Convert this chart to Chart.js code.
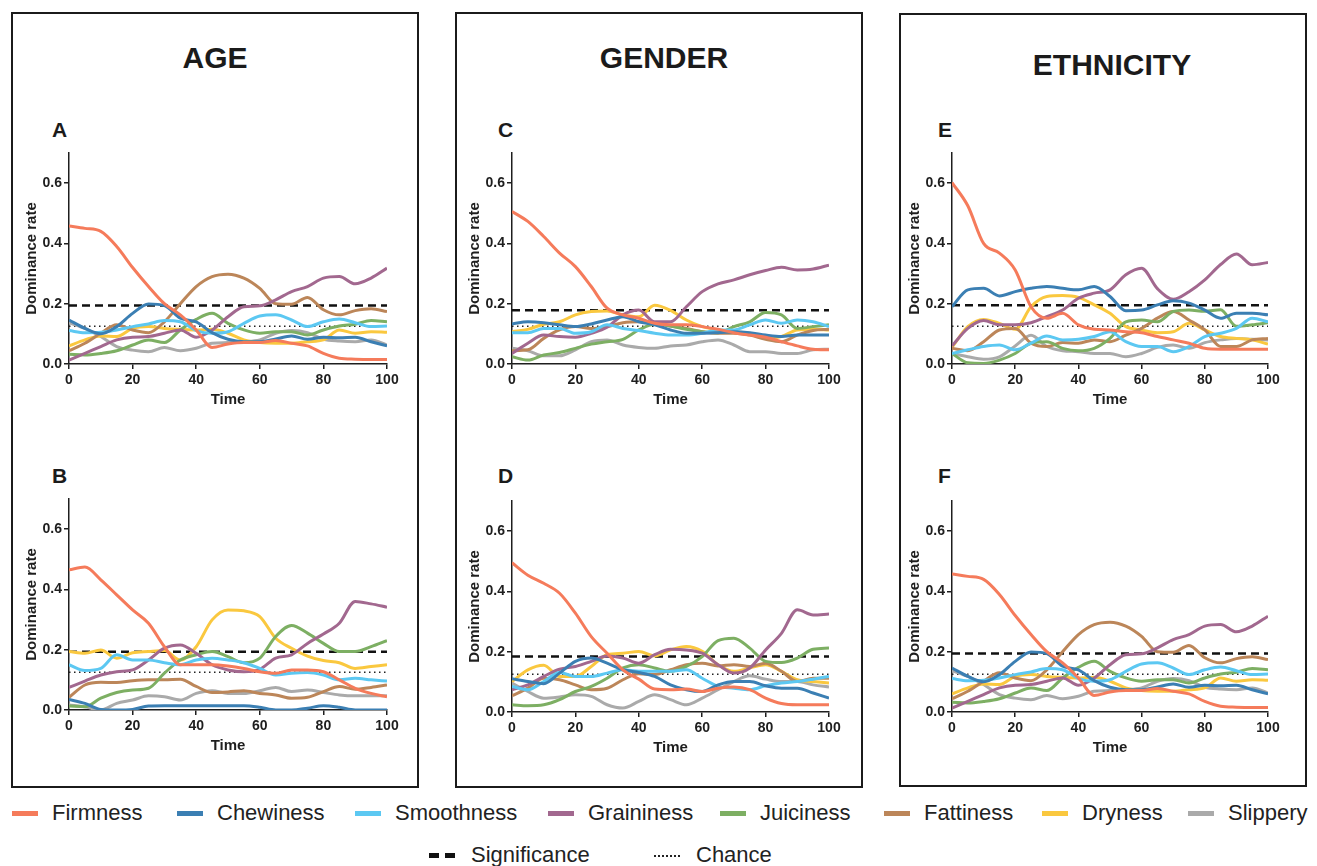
<!DOCTYPE html>
<html>
<head>
<meta charset="utf-8">
<title>Temporal dominance by age, gender and ethnicity</title>
<script src="https://cdn.jsdelivr.net/npm/chart.js@4.4.1/dist/chart.umd.min.js"></script>
<style>
  body { margin: 0; background: #fff; font-family: "Liberation Sans", Arial, sans-serif; }
  #page { position: relative; width: 1317px; height: 866px; overflow: hidden; background: #fff; }
  .box { position: absolute; border: 2.5px solid #1b1b1b; box-sizing: border-box; }
  .group-title { position: absolute; font-weight: bold; font-size: 30px; line-height: 1; color: #1b1b1b; transform: translateX(-50%); white-space: nowrap; }
  .panel-letter { position: absolute; font-weight: bold; font-size: 21px; line-height: 1; color: #1b1b1b; }
  canvas { position: absolute; }
  .legend-item { position: absolute; height: 30px; display: flex; align-items: center; font-size: 22px; color: #222; white-space: nowrap; }
  .sw { position: absolute; }
</style>
</head>
<body>
<div id="page">
  <div class="box" style="left:11px; top:12px; width:408px; height:776px;"></div>
  <div class="box" style="left:455px; top:12px; width:408px; height:776px;"></div>
  <div class="box" style="left:899px; top:13px; width:408px; height:774px;"></div>

  <div class="group-title" style="left:215px; top:43px;">AGE</div>
  <div class="group-title" style="left:664px; top:43px;">GENDER</div>
  <div class="group-title" style="left:1112px; top:50px;">ETHNICITY</div>

  <div class="panel-letter" style="left:52px; top:119px;">A</div>
  <div class="panel-letter" style="left:52px; top:465px;">B</div>
  <div class="panel-letter" style="left:498px; top:119px;">C</div>
  <div class="panel-letter" style="left:498px; top:465px;">D</div>
  <div class="panel-letter" style="left:938px; top:119px;">E</div>
  <div class="panel-letter" style="left:938px; top:465px;">F</div>

  <!-- reference line keys -->
  <div class="sw" style="left:429px; top:853px; width:10px; height:5px; background:#111;"></div>
  <div class="sw" style="left:445px; top:853px; width:10px; height:5px; background:#111;"></div>
  <div class="legend-item" style="left:471px; top:840px;">Significance</div>
  <div class="sw" style="left:654px; top:855px; width:26px; height:0; border-top:2px dotted #222;"></div>
  <div class="legend-item" style="left:696px; top:840px;">Chance</div>
</div>

<script>
// time axis (normalised, %) and axis ticks
const times = [0, 5, 10, 15, 20, 25, 30, 35, 40, 45, 50, 55, 60, 65, 70, 75, 80, 85, 90, 95, 100];
const xTicks = [0, 20, 40, 60, 80, 100];
const yTicks = [0, 0.2, 0.4, 0.6];

const attributes = ['Firmness', 'Chewiness', 'Smoothness', 'Graininess', 'Juiciness', 'Fattiness', 'Dryness', 'Slippery'];
const attributeColors = ['#F57B5B', '#3B7FB3', '#5CC8F2', '#A2688F', '#7DAF63', '#BC8659', '#FAC83F', '#AAAAAA'];
const chanceLevel = 0.125;

// Panel A - age, group 1
const firmnessA   = [0.458, 0.45, 0.44, 0.39, 0.32, 0.257, 0.20, 0.163, 0.113, 0.055, 0.066, 0.071, 0.071, 0.078, 0.069, 0.06, 0.035, 0.019, 0.016, 0.015, 0.015];
const chewinessA  = [0.146, 0.118, 0.10, 0.124, 0.168, 0.199, 0.194, 0.152, 0.14, 0.104, 0.082, 0.074, 0.074, 0.083, 0.093, 0.082, 0.089, 0.087, 0.089, 0.074, 0.06];
const smoothnessA = [0.111, 0.104, 0.105, 0.113, 0.124, 0.133, 0.144, 0.14, 0.111, 0.102, 0.107, 0.135, 0.159, 0.163, 0.146, 0.124, 0.14, 0.149, 0.137, 0.124, 0.126];
const grainA      = [0.013, 0.035, 0.058, 0.08, 0.089, 0.091, 0.102, 0.113, 0.089, 0.113, 0.157, 0.19, 0.193, 0.213, 0.24, 0.257, 0.285, 0.29, 0.266, 0.285, 0.318];
const juicinessA  = [0.032, 0.03, 0.035, 0.044, 0.063, 0.08, 0.071, 0.113, 0.148, 0.168, 0.135, 0.113, 0.102, 0.107, 0.107, 0.096, 0.113, 0.126, 0.132, 0.144, 0.14];
const fattinessA  = [0.044, 0.069, 0.102, 0.13, 0.113, 0.104, 0.14, 0.20, 0.257, 0.29, 0.298, 0.285, 0.251, 0.20, 0.198, 0.221, 0.18, 0.163, 0.177, 0.183, 0.174];
const drynessA    = [0.06, 0.08, 0.093, 0.091, 0.118, 0.124, 0.118, 0.115, 0.113, 0.115, 0.102, 0.08, 0.071, 0.069, 0.069, 0.074, 0.08, 0.113, 0.102, 0.107, 0.105];
const slipperyA   = [0.137, 0.118, 0.091, 0.058, 0.046, 0.041, 0.055, 0.044, 0.052, 0.069, 0.071, 0.074, 0.08, 0.102, 0.111, 0.104, 0.082, 0.076, 0.074, 0.08, 0.063];
const significanceA = 0.194;

// Panel B - age, group 2
const firmnessB   = [0.465, 0.474, 0.432, 0.382, 0.332, 0.288, 0.21, 0.15, 0.15, 0.15, 0.146, 0.138, 0.127, 0.122, 0.133, 0.133, 0.127, 0.10, 0.072, 0.055, 0.044];
const chewinessB  = [0.035, 0.022, 0.002, 0, 0.002, 0.013, 0.014, 0.014, 0.014, 0.014, 0.014, 0.014, 0.009, 0, 0, 0.006, 0.014, 0.009, 0, 0, 0];
const smoothnessB = [0.15, 0.131, 0.138, 0.183, 0.166, 0.166, 0.157, 0.15, 0.166, 0.172, 0.166, 0.157, 0.138, 0.116, 0.122, 0.124, 0.116, 0.10, 0.105, 0.10, 0.096];
const grainB      = [0.075, 0.096, 0.116, 0.127, 0.133, 0.166, 0.205, 0.216, 0.188, 0.15, 0.133, 0.127, 0.135, 0.172, 0.183, 0.221, 0.252, 0.288, 0.36, 0.352, 0.341];
const juicinessB  = [0.013, 0.011, 0.039, 0.058, 0.066, 0.072, 0.122, 0.166, 0.183, 0.194, 0.177, 0.157, 0.172, 0.244, 0.28, 0.255, 0.221, 0.194, 0.194, 0.21, 0.23];
const fattinessB  = [0.042, 0.083, 0.092, 0.091, 0.097, 0.10, 0.10, 0.102, 0.078, 0.058, 0.06, 0.064, 0.055, 0.05, 0.039, 0.042, 0.061, 0.078, 0.069, 0.075, 0.083];
const drynessB    = [0.194, 0.188, 0.199, 0.172, 0.19, 0.194, 0.197, 0.166, 0.21, 0.299, 0.332, 0.329, 0.31, 0.238, 0.205, 0.179, 0.164, 0.157, 0.138, 0.144, 0.15];
const slipperyB   = [0.017, 0.011, 0, 0.022, 0.033, 0.047, 0.044, 0.033, 0.055, 0.064, 0.055, 0.055, 0.064, 0.075, 0.061, 0.066, 0.058, 0.05, 0.047, 0.047, 0.047];
const significanceB = 0.193;

// Panel C - gender, group 1
const firmnessC   = [0.506, 0.473, 0.423, 0.368, 0.323, 0.257, 0.185, 0.163, 0.152, 0.135, 0.13, 0.13, 0.124, 0.115, 0.104, 0.096, 0.089, 0.074, 0.06, 0.049, 0.047];
const chewinessC  = [0.133, 0.14, 0.137, 0.13, 0.124, 0.133, 0.146, 0.157, 0.14, 0.13, 0.113, 0.102, 0.102, 0.104, 0.107, 0.104, 0.096, 0.091, 0.096, 0.096, 0.096];
const smoothnessC = [0.104, 0.104, 0.118, 0.118, 0.102, 0.107, 0.13, 0.118, 0.111, 0.102, 0.096, 0.096, 0.102, 0.113, 0.113, 0.13, 0.146, 0.135, 0.146, 0.14, 0.124];
const grainC      = [0.035, 0.069, 0.096, 0.091, 0.089, 0.102, 0.122, 0.163, 0.179, 0.14, 0.14, 0.19, 0.24, 0.266, 0.279, 0.296, 0.31, 0.321, 0.312, 0.315, 0.328];
const juicinessC  = [0.024, 0.013, 0.03, 0.038, 0.052, 0.066, 0.074, 0.082, 0.113, 0.132, 0.126, 0.115, 0.107, 0.104, 0.124, 0.14, 0.171, 0.163, 0.118, 0.124, 0.13];
const fattinessC  = [0.044, 0.047, 0.085, 0.113, 0.124, 0.118, 0.124, 0.137, 0.14, 0.137, 0.126, 0.118, 0.107, 0.102, 0.102, 0.096, 0.082, 0.074, 0.096, 0.111, 0.115];
const drynessC    = [0.107, 0.115, 0.132, 0.14, 0.163, 0.174, 0.176, 0.163, 0.157, 0.195, 0.178, 0.146, 0.124, 0.113, 0.107, 0.102, 0.085, 0.091, 0.113, 0.115, 0.113];
const slipperyC   = [0.052, 0.044, 0.027, 0.027, 0.047, 0.074, 0.08, 0.063, 0.055, 0.052, 0.06, 0.063, 0.074, 0.08, 0.063, 0.041, 0.041, 0.035, 0.035, 0.047, 0.049];
const significanceC = 0.178;

// Panel D - gender, group 2
const firmnessD   = [0.495, 0.454, 0.427, 0.394, 0.328, 0.25, 0.195, 0.14, 0.109, 0.076, 0.074, 0.076, 0.068, 0.079, 0.083, 0.074, 0.046, 0.028, 0.024, 0.024, 0.024];
const chewinessD  = [0.11, 0.101, 0.094, 0.129, 0.168, 0.179, 0.162, 0.14, 0.131, 0.118, 0.09, 0.074, 0.068, 0.09, 0.101, 0.101, 0.087, 0.079, 0.079, 0.063, 0.046];
const smoothnessD = [0.085, 0.074, 0.101, 0.131, 0.118, 0.118, 0.129, 0.14, 0.135, 0.135, 0.135, 0.14, 0.112, 0.085, 0.079, 0.074, 0.087, 0.096, 0.101, 0.109, 0.118];
const grainD      = [0.074, 0.09, 0.118, 0.142, 0.151, 0.168, 0.186, 0.179, 0.162, 0.19, 0.208, 0.206, 0.195, 0.157, 0.129, 0.146, 0.206, 0.261, 0.339, 0.322, 0.325];
const juicinessD  = [0.024, 0.021, 0.024, 0.041, 0.068, 0.085, 0.112, 0.146, 0.157, 0.146, 0.135, 0.151, 0.184, 0.237, 0.245, 0.212, 0.168, 0.164, 0.179, 0.208, 0.212];
const fattinessD  = [0.054, 0.079, 0.112, 0.107, 0.09, 0.074, 0.079, 0.107, 0.127, 0.124, 0.14, 0.157, 0.162, 0.153, 0.157, 0.151, 0.162, 0.135, 0.101, 0.112, 0.112];
const drynessD    = [0.101, 0.14, 0.155, 0.118, 0.118, 0.151, 0.19, 0.195, 0.201, 0.186, 0.206, 0.217, 0.201, 0.157, 0.135, 0.146, 0.157, 0.135, 0.107, 0.101, 0.096];
const slipperyD   = [0.096, 0.068, 0.046, 0.05, 0.057, 0.052, 0.024, 0.013, 0.035, 0.057, 0.041, 0.024, 0.046, 0.074, 0.101, 0.12, 0.109, 0.101, 0.101, 0.09, 0.083];
const significanceD = 0.184;

// Panel E - ethnicity, group 1
const firmnessE   = [0.602, 0.525, 0.4, 0.368, 0.312, 0.19, 0.152, 0.168, 0.13, 0.115, 0.113, 0.107, 0.104, 0.091, 0.08, 0.069, 0.052, 0.049, 0.049, 0.049, 0.049];
const chewinessE  = [0.19, 0.246, 0.251, 0.226, 0.24, 0.251, 0.257, 0.251, 0.246, 0.257, 0.224, 0.177, 0.179, 0.196, 0.21, 0.202, 0.179, 0.152, 0.168, 0.168, 0.163];
const smoothnessE = [0.035, 0.047, 0.058, 0.063, 0.047, 0.069, 0.093, 0.08, 0.082, 0.091, 0.107, 0.074, 0.058, 0.058, 0.041, 0.058, 0.091, 0.102, 0.118, 0.152, 0.14];
const grainE      = [0.06, 0.118, 0.144, 0.13, 0.13, 0.137, 0.157, 0.179, 0.218, 0.235, 0.246, 0.296, 0.318, 0.25, 0.215, 0.24, 0.279, 0.33, 0.365, 0.329, 0.337];
const juicinessE  = [0.035, 0.004, 0.002, 0.013, 0.035, 0.069, 0.074, 0.052, 0.044, 0.052, 0.085, 0.14, 0.146, 0.14, 0.174, 0.179, 0.175, 0.18, 0.125, 0.13, 0.137];
const fattinessE  = [0.052, 0.044, 0.074, 0.113, 0.118, 0.069, 0.058, 0.071, 0.069, 0.08, 0.074, 0.096, 0.118, 0.152, 0.174, 0.146, 0.113, 0.058, 0.058, 0.08, 0.085];
const drynessE    = [0.055, 0.124, 0.148, 0.135, 0.115, 0.19, 0.224, 0.227, 0.221, 0.196, 0.168, 0.124, 0.113, 0.104, 0.107, 0.135, 0.113, 0.091, 0.085, 0.08, 0.066];
const slipperyE   = [0.035, 0.024, 0.016, 0.024, 0.06, 0.095, 0.058, 0.044, 0.041, 0.035, 0.035, 0.024, 0.035, 0.055, 0.063, 0.052, 0.071, 0.08, 0.085, 0.082, 0.08];
const significanceE = 0.195;

// Panel F - ethnicity, group 2 (the source figure repeats panel A's curves here)
const significanceF = 0.194;

const panels = [
  { series: [firmnessA, chewinessA, smoothnessA, grainA, juicinessA, fattinessA, drynessA, slipperyA], significance: significanceA, area: { left: 69, top: 153, right: 387, bottom: 364 } },
  { series: [firmnessB, chewinessB, smoothnessB, grainB, juicinessB, fattinessB, drynessB, slipperyB], significance: significanceB, area: { left: 69, top: 499, right: 387, bottom: 710 } },
  { series: [firmnessC, chewinessC, smoothnessC, grainC, juicinessC, fattinessC, drynessC, slipperyC], significance: significanceC, area: { left: 512, top: 153, right: 829, bottom: 364 } },
  { series: [firmnessD, chewinessD, smoothnessD, grainD, juicinessD, fattinessD, drynessD, slipperyD], significance: significanceD, area: { left: 512, top: 501, right: 829, bottom: 712 } },
  { series: [firmnessE, chewinessE, smoothnessE, grainE, juicinessE, fattinessE, drynessE, slipperyE], significance: significanceE, area: { left: 952, top: 153, right: 1268, bottom: 364 } },
  { series: [firmnessA, chewinessA, smoothnessA, grainA, juicinessA, fattinessA, drynessA, slipperyA], significance: significanceF, area: { left: 952, top: 501, right: 1268, bottom: 712 } }
];

// legend text positions (px from left), row 1
const legendTextLeft = [52, 217, 395, 588, 760, 924, 1082, 1228];

const Y_AXIS_W = 55;
const X_AXIS_H = 56;
const PAD_TOP = 13;
const PAD_RIGHT = 20;
const INK = '#1e1e1e';

function axisStyle(titleText, titlePadding) {
  return {
    type: 'linear',
    border: { color: INK, width: 1.5 },
    grid: { drawOnChartArea: false, drawTicks: true, tickLength: 5, color: INK, lineWidth: 1.5 },
    ticks: { color: INK, font: { family: 'Liberation Sans, Arial', size: 14, weight: 'bold' } },
    title: { display: true, text: titleText, color: INK, padding: titlePadding,
             font: { family: 'Liberation Sans, Arial', size: 15, weight: 'bold' } }
  };
}

function buildPanel(panel, page) {
  const a = panel.area;
  const canvas = document.createElement('canvas');
  canvas.width = a.right - a.left + Y_AXIS_W + PAD_RIGHT;
  canvas.height = a.bottom - a.top + PAD_TOP + X_AXIS_H;
  canvas.style.left = (a.left - Y_AXIS_W) + 'px';
  canvas.style.top = (a.top - PAD_TOP) + 'px';
  page.appendChild(canvas);

  const datasets = attributes.map((name, i) => ({
    label: name,
    data: times.map((t, j) => ({ x: t, y: panel.series[i][j] })),
    borderColor: attributeColors[i],
    borderWidth: 3,
    pointRadius: 0,
    cubicInterpolationMode: 'monotone',
    fill: false
  }));
  datasets.push({
    label: 'Significance',
    data: [{ x: 0, y: panel.significance }, { x: 100, y: panel.significance }],
    borderColor: '#111', borderWidth: 2.5, borderDash: [8, 5], pointRadius: 0
  });
  datasets.push({
    label: 'Chance',
    data: [{ x: 0, y: chanceLevel }, { x: 100, y: chanceLevel }],
    borderColor: '#222', borderWidth: 1.4, borderDash: [1.5, 3.5], pointRadius: 0
  });

  const x = axisStyle('Time', { top: 0, bottom: 11 });
  Object.assign(x, {
    min: 0, max: 100,
    afterBuildTicks: s => { s.ticks = xTicks.map(v => ({ value: v })); },
    afterFit: s => { s.height = X_AXIS_H; }
  });
  x.ticks.padding = 3;
  x.ticks.maxRotation = 0;

  const y = axisStyle('Dominance rate', { top: 9, bottom: 0 });
  Object.assign(y, {
    min: 0, max: 0.7,
    afterBuildTicks: s => { s.ticks = yTicks.map(v => ({ value: v })); },
    afterFit: s => { s.width = Y_AXIS_W; }
  });
  y.ticks.padding = 2;
  y.ticks.callback = v => v.toFixed(1);

  new Chart(canvas, {
    type: 'line',
    data: { datasets },
    options: {
      responsive: false,
      animation: false,
      layout: { padding: { top: PAD_TOP, right: PAD_RIGHT, bottom: 0, left: 0 } },
      plugins: { legend: { display: false }, tooltip: { enabled: false } },
      scales: { x, y }
    }
  });
}

function buildLegend(page) {
  attributes.forEach((name, i) => {
    const sw = document.createElement('div');
    sw.className = 'sw';
    sw.style.cssText = `left:${legendTextLeft[i] - 40}px; top:811px; width:26px; height:5px; background:${attributeColors[i]};`;
    page.appendChild(sw);
    const item = document.createElement('div');
    item.className = 'legend-item';
    item.style.left = legendTextLeft[i] + 'px';
    item.style.top = '798px';
    item.textContent = name;
    page.appendChild(item);
  });
}

document.addEventListener('DOMContentLoaded', () => {
  const page = document.getElementById('page');
  panels.forEach(p => buildPanel(p, page));
  buildLegend(page);
});
</script>
</body>
</html>
